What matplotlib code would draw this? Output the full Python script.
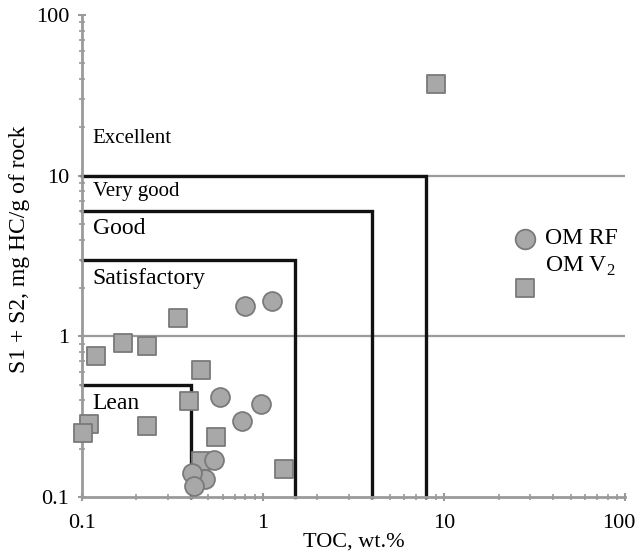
import matplotlib
matplotlib.use("Agg")
import matplotlib.pyplot as plt
from matplotlib.ticker import FuncFormatter, LogLocator

plt.rcParams['font.family'] = ['Liberation Serif', 'DejaVu Serif']
plt.rcParams['mathtext.fontset'] = 'custom'
plt.rcParams['mathtext.rm'] = 'Liberation Serif'

# OM RF samples (circles)
rf_toc = [0.80, 1.13, 0.58, 0.98, 0.77, 0.536, 0.478, 0.406, 0.415]
rf_s1s2 = [1.55, 1.66, 0.418, 0.381, 0.299, 0.170, 0.129, 0.141, 0.118]

# OM V2 samples (squares)
v2_toc = [0.34, 0.169, 0.23, 0.1195, 0.458, 0.39, 0.11, 0.1017, 0.23, 0.548, 0.458, 1.31, 9.0]
v2_s1s2 = [1.31, 0.91, 0.866, 0.75, 0.62, 0.398, 0.285, 0.252, 0.275, 0.235, 0.168, 0.149, 37.0]

# classification boxes: (TOC limit, S1+S2 limit)
box_toc = [8.0, 4.0, 1.5, 0.4]
box_s = [10.0, 6.0, 3.0, 0.5]

zone_names = ['Excellent', 'Very good', 'Good', 'Satisfactory', 'Lean']
zone_y = [17.1, 7.94, 4.70, 2.30, 0.383]
zone_size = [15, 15, 17, 17, 17]

fill = '#a8a8a8'
edge = '#7a7a7a'
grey = '#9a9a9a'

fig = plt.figure(figsize=(6.38, 5.56), dpi=100)
ax = fig.add_axes([0.128, 0.106, 0.852, 0.867])
ax.set_xscale('log')
ax.set_yscale('log')
ax.set_xlim(0.1, 100)
ax.set_ylim(0.1, 100)

# grey reference lines
for yv in [10, 1]:
    ax.axhline(yv, color=grey, lw=1.6, zorder=1)

# black boxes
for bx, by in zip(box_toc, box_s):
    ax.plot([0.1, bx, bx], [by, by, 0.1], color='#111111', lw=2.4, zorder=2,
            solid_joinstyle='miter', clip_on=False)

for name, yv, fs in zip(zone_names, zone_y, zone_size):
    ax.text(0.115, yv, name, fontsize=fs, ha='left', va='center', zorder=3)

ax.scatter(v2_toc, v2_s1s2, marker='s', s=150, facecolor=fill, edgecolor=edge,
           linewidth=1.3, zorder=4, clip_on=False)
ax.scatter(rf_toc, rf_s1s2, marker='o', s=185, facecolor=fill, edgecolor=edge,
           linewidth=1.3, zorder=5, clip_on=False)

# legend drawn by hand
ax.scatter([0.816], [0.536], marker='o', s=200, facecolor=fill, edgecolor=edge,
           linewidth=1.3, transform=ax.transAxes, zorder=5)
ax.scatter([0.816], [0.433], marker='s', s=160, facecolor=fill, edgecolor=edge,
           linewidth=1.3, transform=ax.transAxes, zorder=5)
ax.text(0.853, 0.536, 'OM RF', fontsize=17, ha='left', va='center', transform=ax.transAxes)
ax.text(0.853, 0.478, r'OM V$_{\mathregular{2}}$', fontsize=17, ha='left', va='center',
        transform=ax.transAxes)

for side in ['top', 'right']:
    ax.spines[side].set_visible(False)
for side in ['left', 'bottom']:
    ax.spines[side].set_color(grey)
    ax.spines[side].set_linewidth(2)

# the last x label (100) is written by hand so it can sit just inside the canvas
ax.xaxis.set_major_formatter(FuncFormatter(lambda v, p: '' if v >= 100 else '%g' % v))
ax.yaxis.set_major_formatter(FuncFormatter(lambda v, p: '%g' % v))
ax.xaxis.set_major_locator(LogLocator(base=10, numticks=10))
ax.yaxis.set_major_locator(LogLocator(base=10, numticks=10))
ax.tick_params(which='major', direction='inout', length=6, width=1.5, color=grey,
               labelsize=16, pad=6)
ax.tick_params(which='minor', direction='inout', length=4, width=1.2, color=grey)
ax.tick_params(axis='x', which='major', pad=9)
ax.annotate('100', xy=(100, 0.1), xycoords='data', xytext=(7.5, -12),
            textcoords='offset points', ha='right', va='top', fontsize=16,
            annotation_clip=False)

ax.set_xlabel('TOC, wt.%', fontsize=16, labelpad=0)
ax.set_ylabel('S1 + S2, mg HC/g of rock', fontsize=17)
ax.yaxis.set_label_coords(-0.095, 0.515)

fig.savefig('out.png', dpi=100)
